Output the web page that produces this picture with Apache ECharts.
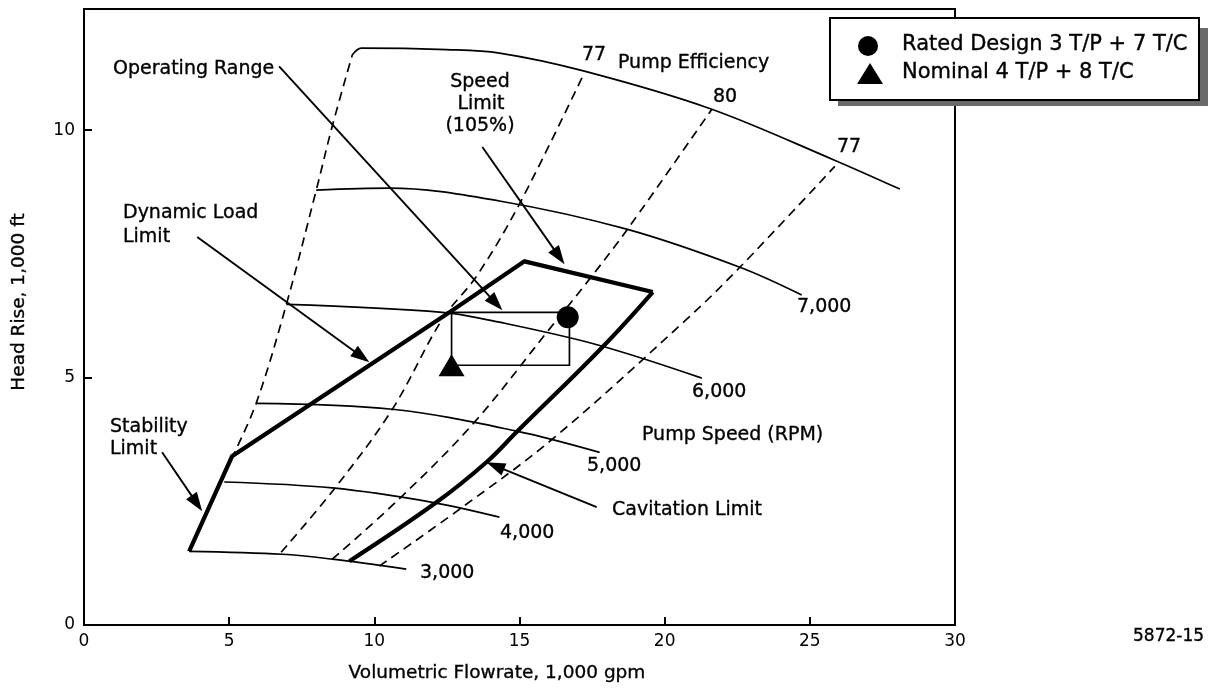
<!DOCTYPE html>
<html>
<head>
<meta charset="utf-8">
<script src="https://cdn.jsdelivr.net/npm/echarts@6/dist/echarts.min.js"></script>
<style>
html,body{margin:0;padding:0;background:#fff;}
#chart{width:1209px;height:688px;}
</style>
</head>
<body>
<div id="chart"></div>
<script>
// ---------- data (x: 1,000 gpm, y: 1,000 ft) ----------
const xTickValues = [0, 5, 10, 15, 20, 25, 30];
const yTickValues = [0, 5, 10];

// pump speed lines (RPM)
const speed3000 = [[3.62,1.49],[6.83,1.43],[8.55,1.33],[11.10,1.13]];
const speed4000 = [[4.83,2.89],[8.55,2.77],[12.0,2.48],[14.31,2.18]];
const speed5000 = [[5.93,4.48],[10.62,4.36],[14.9,3.92],[17.76,3.49]];
const speed6000 = [[6.97,6.48],[12.34,6.32],[14.31,6.12],[17.7,5.66],[21.28,4.99]];
const speed7000 = [[8.0,8.79],[10.52,8.83],[14.31,8.57],[18.69,8.0],[22.59,7.23],[24.72,6.67]];
const speedTop  = [[9.24,11.52],[9.55,11.66],[12.48,11.63],[14.31,11.56],[17.2,11.2],[21.55,10.44],[25.79,9.41],[28.1,8.81]];

// left dashed boundary and pump efficiency lines (%)
const dashedLeft = [[5.07,3.35],[5.93,4.48],[6.97,6.48],[8.0,8.79],[8.55,10.08],[9.24,11.52]];
const eff77Low  = [[6.79,1.47],[8.62,2.75],[10.62,4.36],[12.34,6.18],[13.52,7.05],[15.0,8.51],[17.24,11.17]];
const eff80     = [[8.55,1.33],[10.86,2.55],[13.45,4.10],[16.03,5.98],[17.41,6.99],[18.72,8.0],[21.62,10.42]];
const eff77High = [[10.17,1.19],[13.03,2.38],[16.14,3.76],[20.76,6.18],[22.59,7.23],[25.86,9.27]];

// operating envelope: stability + dynamic load + speed limit, and cavitation limit
const envelopeUpper = [[3.62,1.49],[5.10,3.41],[12.59,6.32],[15.17,7.35],[19.59,6.73]];
const cavitationLimit = [[19.59,6.73],[17.86,5.62],[14.9,3.90],[13.86,3.29],[12.14,2.48],[9.14,1.29]];

// operating range box and design points
const operatingRange = [[12.66,6.32],[16.72,6.32],[16.72,5.25],[12.66,5.25],[12.66,6.32]];
const ratedDesign = [[16.66,6.22]];
const nominal = [[12.66,5.25]];

// annotation arrows: [fromX, fromY, toX, toY]
const arrows = [
  [6.72,11.29,14.41,6.36],   // Operating Range
  [13.72,9.66,16.55,7.29],   // Speed Limit
  [3.9,7.84,9.83,5.31],      // Dynamic Load Limit
  [2.69,3.49,4.07,2.30],     // Stability Limit
  [17.66,2.38,13.86,3.29]    // Cavitation Limit
];

const speedLabels = ['3,000', '4,000', '5,000', '6,000', '7,000'];
const efficiencyLabels = ['77', '80', '77'];
const legendTexts = ['Rated Design 3 T/P + 7 T/C', 'Nominal 4 T/P + 8 T/C'];

// ---------- chart ----------
const FONT = "'DejaVu Sans', sans-serif";
const chart = echarts.init(document.getElementById('chart'), null, {renderer: 'canvas'});

function solid(data, w, sm) {
  return {type:'line', data:data, symbol:'none', smooth:sm, silent:true,
          lineStyle:{color:'#000', width:w, type:'solid', join:'miter'}, z:3};
}
function dashed(data) {
  return {type:'line', data:data, symbol:'none', smooth:0.35, silent:true,
          lineStyle:{color:'#000', width:1.7, type:[9,6]}, z:3};
}

function txt(x, y, s, size, align, z) {
  return {type:'text', x:x, y:y, z:z || 100,
          style:{text:s, fill:'#000', stroke:'#000', lineWidth:0.35,
                 font: size + 'px ' + FONT, textAlign: align || 'left', textVerticalAlign:'middle'}};
}

const option = {
  animation:false,
  backgroundColor:'#fff',
  grid:{left:84, top:9, right:254, bottom:63, show:true, borderColor:'#000', borderWidth:2, backgroundColor:'transparent'},
  xAxis:{type:'value', min:0, max:30, interval:5,
    axisLine:{show:true, lineStyle:{color:'#000', width:2}},
    axisTick:{show:true, inside:true, length:8, lineStyle:{color:'#000', width:2}},
    axisLabel:{color:'#000', fontFamily:FONT, fontSize:17, margin:8,
               formatter:v => xTickValues.indexOf(v) >= 0 ? String(v) : ''},
    splitLine:{show:false}},
  yAxis:{type:'value', min:0, max:12.45, interval:5,
    axisLine:{show:true, lineStyle:{color:'#000', width:2}},
    axisTick:{show:true, inside:true, length:8, lineStyle:{color:'#000', width:2}},
    axisLabel:{color:'#000', fontFamily:FONT, fontSize:17, margin:9, showMaxLabel:false,
               formatter:v => yTickValues.indexOf(v) >= 0 ? String(v) : ''},
    splitLine:{show:false}},
  series:[
    solid(speed3000, 1.7, 0.35), solid(speed4000, 1.7, 0.35), solid(speed5000, 1.7, 0.35),
    solid(speed6000, 1.7, 0.35), solid(speed7000, 1.7, 0.35), solid(speedTop, 1.7, 0.35),
    dashed(dashedLeft), dashed(eff77Low), dashed(eff80), dashed(eff77High),
    Object.assign(solid(envelopeUpper, 4.2, false), {z:4}),
    Object.assign(solid(cavitationLimit, 4.2, 0.4), {z:4}),
    Object.assign(solid(operatingRange, 1.7, false), {z:4}),
    {type:'scatter', data:ratedDesign, symbol:'circle', symbolSize:22,
     itemStyle:{color:'#000', opacity:1}, z:6, silent:true},
    {type:'scatter', data:nominal, symbol:'triangle', symbolSize:[26,22],
     itemStyle:{color:'#000', opacity:1}, z:6, silent:true},
    {type:'custom', data:arrows, encode:{x:[0,2], y:[1,3]}, clip:false, silent:true, z:5,
     renderItem:function(params, api){
       const a = api.coord([api.value(0), api.value(1)]);
       const b = api.coord([api.value(2), api.value(3)]);
       const dx = b[0]-a[0], dy = b[1]-a[1];
       const len = Math.sqrt(dx*dx+dy*dy);
       const ux = dx/len, uy = dy/len;
       const hl = 19, hw = 6.5;
       const bx = b[0]-ux*hl, by = b[1]-uy*hl;
       const px = -uy, py = ux;
       return {type:'group', children:[
         {type:'line', shape:{x1:a[0], y1:a[1], x2:bx+ux*2, y2:by+uy*2},
          style:{stroke:'#000', lineWidth:1.9}},
         {type:'polygon', shape:{points:[[b[0],b[1]],[bx+px*hw,by+py*hw],[bx-px*hw,by-py*hw]]},
          style:{fill:'#000'}}
       ]};
     }}
  ],
  graphic:[
    // axis names
    txt(497, 673, 'Volumetric Flowrate, 1,000 gpm', 18.5, 'center'),
    {type:'text', x:19, y:302, rotation:Math.PI/2, z:100,
     style:{text:'Head Rise, 1,000 ft', fill:'#000', stroke:'#000', lineWidth:0.35,
            font:'18.5px ' + FONT, textAlign:'center', textVerticalAlign:'middle'}},
    txt(1133, 637, '5872-15', 17),
    // annotations
    txt(113, 69, 'Operating Range', 19),
    txt(123, 213, 'Dynamic Load', 19),
    txt(123, 237, 'Limit', 19),
    txt(110, 427, 'Stability', 19),
    txt(110, 449, 'Limit', 19),
    txt(480, 82, 'Speed', 19, 'center'),
    txt(481, 104, 'Limit', 19, 'center'),
    txt(480, 126, '(105%)', 19, 'center'),
    txt(582, 55, efficiencyLabels[0], 19),
    txt(618, 63, 'Pump Efficiency', 19),
    txt(713, 97, efficiencyLabels[1], 19),
    txt(837, 147, efficiencyLabels[2], 19),
    txt(797, 307, speedLabels[4], 19),
    txt(692, 392, speedLabels[3], 19),
    txt(642, 435, 'Pump Speed (RPM)', 19),
    txt(587, 466, speedLabels[2], 19),
    txt(612, 510, 'Cavitation Limit', 19),
    txt(500, 533, speedLabels[1], 19),
    txt(420, 573, speedLabels[0], 19),
    // legend box with shadow
    {type:'rect', z:100, shape:{x:1199, y:28, width:9, height:78}, style:{fill:'#6a6a6a'}},
    {type:'rect', z:100, shape:{x:838, y:100, width:370, height:6}, style:{fill:'#6a6a6a'}},
    {type:'rect', z:101, shape:{x:830, y:18, width:369, height:82}, style:{fill:'#fff', stroke:'#000', lineWidth:2}},
    {type:'circle', z:102, shape:{cx:868, cy:46, r:10}, style:{fill:'#000'}},
    {type:'polygon', z:102, shape:{points:[[870,63],[857,84],[883,84]]}, style:{fill:'#000'}},
    txt(902, 45, legendTexts[0], 21, 'left', 103),
    txt(902, 73, legendTexts[1], 21, 'left', 103)
  ]
};

chart.setOption(option);
</script>
</body>
</html>
